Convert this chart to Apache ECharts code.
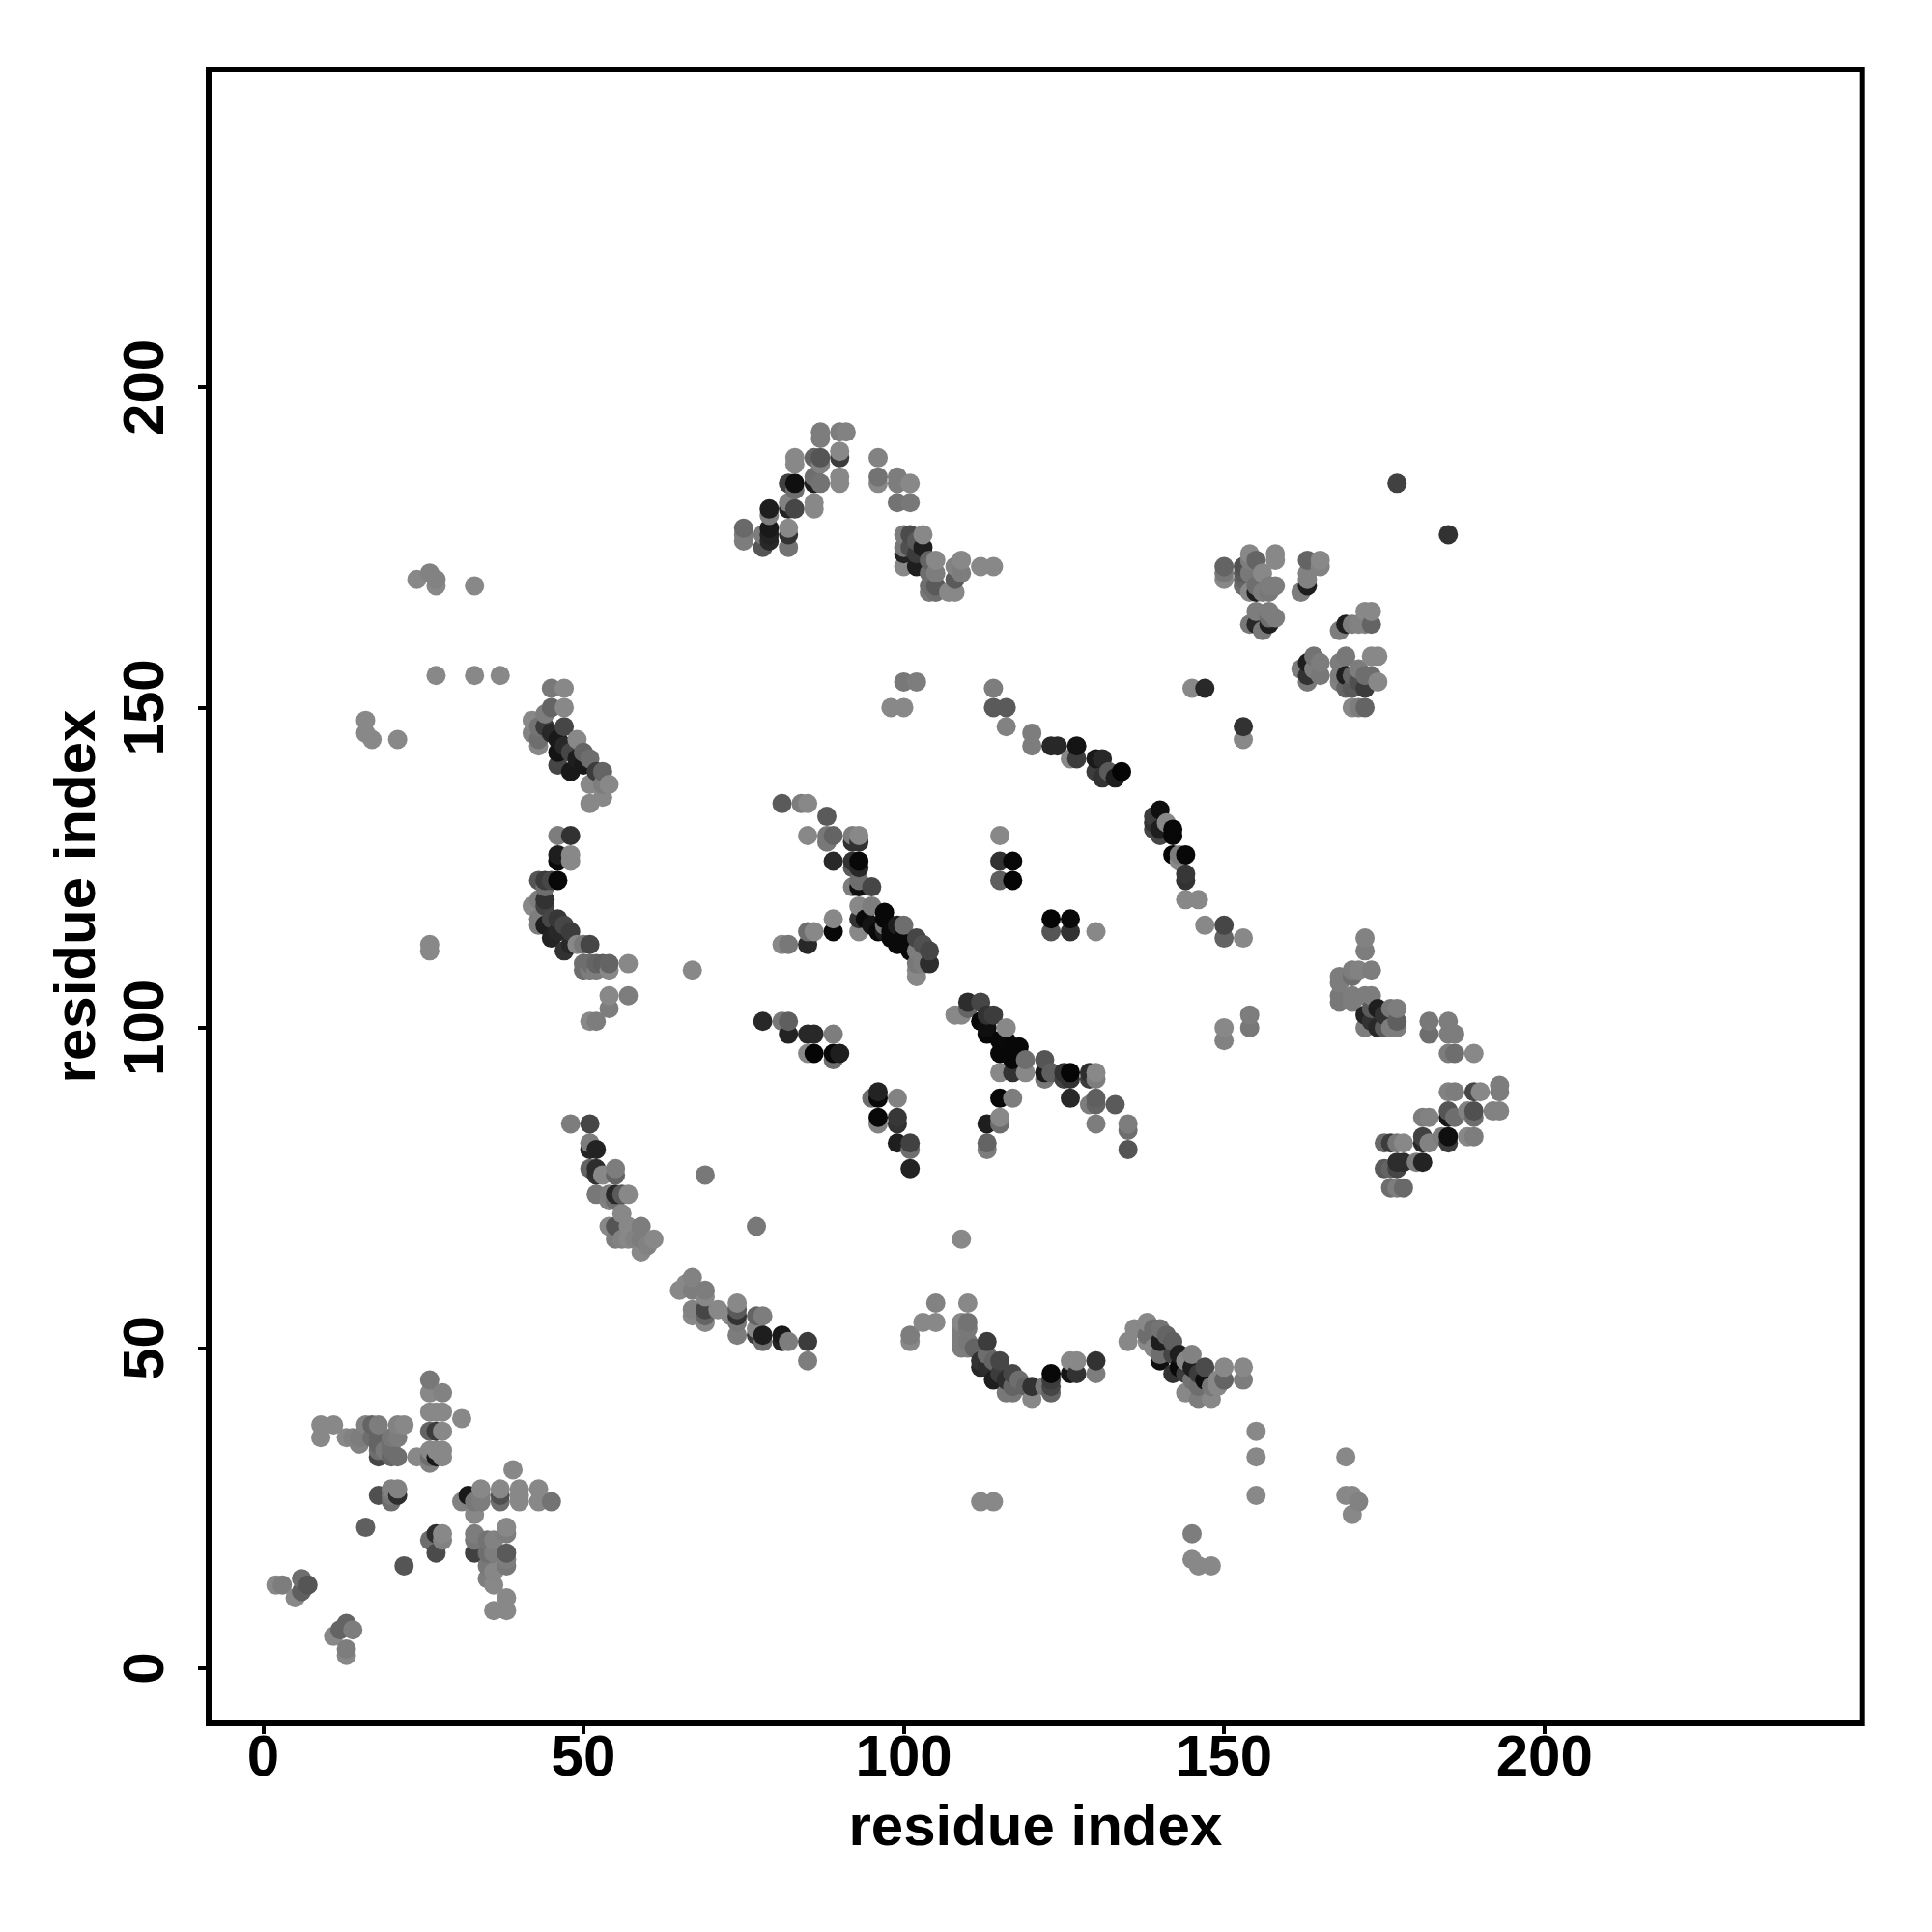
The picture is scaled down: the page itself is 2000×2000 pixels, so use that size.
<!DOCTYPE html>
<html><head><meta charset="utf-8">
<style>html,body{margin:0;padding:0;background:#fff}#c{width:2000px;height:2000px}</style>
<script src="https://cdn.jsdelivr.net/npm/echarts@6/dist/echarts.min.js"></script>
</head><body><div id="c"></div>
<script>
const tickValues = [0, 50, 100, 150, 200];
const axisTitle = 'residue index';
// Each contact: [residue i, residue j, grey level]
const clusterBottomLeft = [
[26,45,120],[26,43,136],[28,43,130],[26,40,136],[27,40,136],[28,40,136],[31,39,136],
[9,38,136],[11,38,136],[16,38,130],[17,38,100],[18,38,125],[21,38,130],[22,38,136],
[26,37,100],[27,37,60],[28,37,136],[9,36,136],[13,36,136],[14,36,130],[15,36,125],[17,36,110],[18,36,100],[20,36,120],[21,36,125],
[15,35,130],[18,35,100],[20,35,110],[26,34,136],[27,34,136],[28,34,136],[18,34,110],[20,34,110],[19,34,120],
[18,33,70],[20,33,100],[21,33,110],[24,33,136],[26,33,110],[27,33,25],[28,33,136],[26,32,130],[39,31,136],
[20,28,130],[21,28,130],[34,28,136],[37,28,136],[40,28,136],[43,28,136],
[18,27,80],[21,27,45],[20,27,120],[32,27,25],[34,27,125],[37,27,80],[40,27,136],
[20,26,110],[31,26,130],[33,26,120],[34,26,125],[37,26,110],[40,26,136],[43,26,136],[45,26,115],[33,24,136],
[16,22,95],[38,22,136],[27,21,45],[28,21,136],[33,21,125],[38,21,125],[26,20,110],[28,20,130],[33,20,120],[35,20,115],[36,20,130],
[27,18,75],[33,18,65],[35,18,110],[36,18,125],[38,18,90],[38,17,125],[38,16,120],[35,16,120],[36,15,135],[35,14,125],[36,13,136],[38,11,136],[36,9,136],[38,9,136],[22,16,85],
[2,13,136],[3,13,125],[6,14,110],[7,13,85],[6,12,95],[5,11,136],[13,7,100],[12,6,100],[14,6,125],[11,5,136],[13,3,125],[13,2,136]
];
const clusterLeftArc = [
[37,155,136],[33,155,136],[27,155,136],[45,153,120],[47,153,136],[45,150,100],[47,150,136],[44,149,125],[42,148,136],[42,146,130],[43,147,115],[43,145,110],[43,144,136],
[44,147,60],[45,146,40],[46,145,25],[47,147,70],[49,145,136],[46,143,20],[46,141,70],[47,144,40],[48,143,70],[48,140,25],[49,142,30],[50,141,25],[50,143,100],[51,142,110],[52,140,60],[51,138,136],[53,140,100],[53,138,125],[54,138,136],[53,136,136],[51,135,136],
[46,130,125],[48,130,50],[46,127,30],[48,127,136],[46,126,10],[48,126,136],
[43,123,85],[44,123,60],[45,123,70],[46,123,8],[44,122,110],[42,119,136],[43,120,125],[44,120,50],[44,119,65],
[43,117,125],[43,116,125],[44,116,30],[45,117,70],[46,117,55],[45,114,35],[46,115,40],[47,116,70],[48,115,60],[47,112,50],[48,113,40],[49,113,136],[50,113,120],[51,113,70],
[50,110,110],[50,109,110],[51,110,110],[51,109,125],[52,110,100],[52,109,125],[53,110,95],[54,110,100],[54,109,136],[57,110,136],[67,109,136],[54,105,136],[57,105,125],[54,103,125],[51,101,136],[52,101,125],
[26,113,136],[26,112,136],[24,170,136],[26,171,130],[27,169,136],[27,170,130],[33,169,136],[16,148,136],[16,146,136],[17,145,136],[21,145,136]
];
const clusterLowerCurve = [
[48,85,125],[51,85,70],[51,82,125],[51,81,35],[52,81,35],[51,78,100],[52,78,45],[52,77,50],[53,77,136],[55,78,125],[55,77,100],
[52,74,120],[54,74,125],[55,74,40],[55,73,110],[56,74,90],[57,74,136],[54,73,130],[56,71,136],
[54,69,136],[55,69,85],[57,69,136],[59,69,125],[55,67,125],[56,67,130],[57,67,136],[58,67,130],[59,67,125],[61,67,136],[60,66,130],[59,65,136],
[69,77,120],[77,69,120],[109,67,136],[65,59,136],[66,60,136],[67,61,130],[67,59,125],[69,59,125],[69,58,136],[67,56,130],[67,55,136],[69,56,70],[69,55,100],[69,54,136],[71,56,136],
[73,55,136],[74,57,136],[74,56,90],[74,55,50],[74,54,120],[74,52,125],[77,55,100],[78,55,125],[77,53,136],[77,52,60],[78,52,30],[78,51,110],[81,52,25],[81,51,35],[82,51,125],[85,51,60],[85,48,125]
];
const clusterBottomMid = [
[101,52,125],[101,51,136],[103,54,136],[105,54,136],[105,57,130],[110,57,136],[109,54,136],[110,54,115],[109,53,125],[110,53,120],[109,52,125],[109,51,125],[109,50,125],[110,51,120],[110,50,125],
[111,50,100],[112,48,50],[112,47,40],[113,51,60],[113,49,110],[113,47,45],[114,48,100],[114,45,30],[115,48,70],[115,46,60],[116,45,45],[116,43,120],[117,46,70],[117,44,100],[117,43,120],[118,45,110],[119,44,100],[120,44,50],[120,42,136],[122,44,120],[123,46,8],[123,45,60],[123,44,70],[123,43,100],[126,48,136],[127,48,136],[126,46,20],[127,46,50],[130,48,50],[130,46,125],
[135,51,136],[136,53,136],[138,54,136],[138,52,110],[138,51,136],[139,53,110],[140,53,115],[139,50,136],[140,51,30],[140,49,110],[140,48,15],[141,52,100],[142,51,95],[142,49,70],[142,46,50],[143,49,30],[143,47,10],[144,48,136],[144,46,60],[144,43,136],[145,49,130],[145,47,30],[145,45,115],[146,46,60],[146,44,110],[146,42,125],[147,47,75],[147,45,15],[148,44,120],[148,42,136],[149,45,136],[149,44,136],[150,47,136],[150,45,100],[153,47,136],[153,45,125],
[155,37,136],[155,33,136],[155,27,136],[169,33,136],[169,27,136],[170,27,136],[171,26,130],[170,24,136],[112,26,136],[114,26,136],[145,21,125],[145,17,136],[146,16,136],[148,16,136]
];
const clusterCentre = [
[81,135,90],[84,135,125],[85,135,136],[88,133,90],[85,130,136],[88,130,120],[89,130,100],[92,130,125],[93,130,136],[88,129,120],[92,129,50],[93,129,50],
[89,126,40],[92,126,50],[93,126,8],[92,125,90],[93,125,40],[92,122,125],[93,123,110],[93,122,15],[95,122,70],
[93,119,136],[95,119,125],[97,118,8],[93,117,50],[94,117,10],[97,117,8],[89,117,136],[89,115,8],[93,115,136],[95,116,20],[96,115,10],[97,115,30],[98,115,10],[98,114,10],[97,116,120],[99,116,30],[99,113,10],[100,114,10],[100,116,110],[101,112,10],[102,114,70],[102,112,125],[103,113,80],[103,111,125],[104,112,70],[102,110,120],[103,110,125],[104,110,45],[102,109,136],[102,108,136],
[86,115,136],[85,115,110],[85,113,40],[81,113,136],[82,113,120],
[115,130,136],[115,126,50],[117,126,8],[115,123,95],[117,123,5],[123,117,5],[126,117,10],[123,115,85],[126,115,50],[130,115,136],
[139,133,60],[140,134,15],[139,132,50],[139,131,70],[140,130,70],[141,132,136],[140,131,30],[142,131,8],[142,130,8],[142,127,5],[143,127,125],[143,126,136],[144,127,8],[144,124,55],[144,123,50],[144,120,136],[146,120,136],[147,116,136],[150,116,70],[150,114,100],[153,114,136],
[78,101,40],[81,101,120],[82,101,95],[82,99,35],[85,99,40],[86,99,40],[89,99,125],[85,96,136],[86,96,5],[89,95,110],[89,96,8],[90,96,30],
[95,89,110],[96,90,35],[96,89,8],[99,89,130],[96,85,130],[96,86,8],[99,86,55],[99,85,50],[99,82,30],[101,82,65],[101,81,110],[101,78,35],
[113,85,30],[115,86,136],[115,85,110],[113,82,100],[113,81,125],[115,89,8],[117,89,125],
[108,102,136],[109,102,136],[110,104,45],[110,103,100],[112,104,70],[112,101,8],[113,102,50],[113,99,8],[113,100,15],[114,102,60],[115,98,8],[116,100,136],[115,96,8],[116,98,10],[116,96,8],[117,97,8],[117,96,8],[117,95,8],[118,97,8],
[115,93,136],[117,93,50],[119,93,136],[119,95,110],[122,95,85],[122,93,25],[122,92,120],[123,93,95],[125,93,50],[125,92,65],[126,93,5],[126,92,50],[129,93,45],[129,92,60],[130,93,136],[130,92,125],
[126,89,40],[130,89,95],[129,88,125],[130,88,100],[133,88,90],[130,85,125],[135,85,125],[135,84,110],[135,81,85],
[114,153,125],[114,150,90],[116,150,90],[116,147,130],[120,146,125],[120,144,125],[123,144,40],[124,144,40],[126,142,136],[127,144,20],[127,142,60],[130,142,25],[131,142,40],[130,140,60],[131,139,50],[132,140,90],[133,139,30],[134,140,5],
[98,150,136],[100,150,136],[100,154,120],[102,154,125]
];
const clusterTop = [
[87,193,125],[87,192,125],[90,193,125],[91,193,130],[83,189,136],[83,188,136],[86,189,100],[87,189,85],[87,188,130],[90,190,136],[90,189,60],
[96,189,130],[96,186,115],[96,185,136],[99,186,125],[99,185,125],[101,185,136],[99,182,115],[101,182,120],
[82,185,65],[83,185,15],[83,184,110],[86,186,110],[86,185,30],[87,185,115],[90,186,136],[90,185,136],
[82,182,130],[82,181,35],[83,181,70],[86,182,136],[86,181,136],[79,181,30],[79,180,125],
[75,178,105],[75,177,125],[75,176,125],[78,177,125],[78,175,85],[79,178,25],[79,177,35],[79,176,40],[82,178,136],[82,177,50],[82,175,115],
[100,177,125],[100,175,120],[100,174,35],[100,172,136],[101,177,75],[101,175,80],[102,176,90],[102,174,60],[102,172,30],[103,177,136],[103,175,30],[103,174,60],[104,173,100],[104,171,110],[104,169,110],[104,168,120],
[105,173,136],[105,171,125],[105,169,90],[105,168,110],[107,168,136],[108,172,130],[108,170,90],[108,168,136],[109,173,136],[109,171,125],[112,172,136],[114,172,136]
];
const clusterTopRight = [
[177,185,65],[185,177,50],[145,153,136],[147,153,40],[153,147,50],[153,145,136],
[150,172,100],[150,171,120],[150,170,136],[153,172,80],[153,171,90],[153,170,100],[153,169,110],[154,174,136],[154,173,125],[154,171,120],[154,168,136],[155,173,100],[155,169,110],[155,168,30],[156,171,136],[156,168,125],[157,168,120],[157,169,125],[158,174,136],[158,173,136],[158,169,125],
[155,165,125],[154,163,120],[155,163,40],[156,162,120],[157,165,125],[157,164,110],[157,163,30],[158,164,125],
[162,168,125],[163,173,100],[163,171,130],[163,170,130],[163,169,30],[165,173,136],[165,172,130],
[168,162,125],[169,163,30],[170,163,125],[171,163,130],[172,165,136],[173,165,136],[172,163,130],[173,163,100],
[162,156,125],[163,157,30],[163,155,50],[163,154,120],[164,158,115],[164,156,125],[165,157,125],[165,155,120],
[168,157,125],[168,155,125],[168,154,130],[169,158,120],[169,155,30],[169,153,100],[170,153,90],[170,155,100],[171,156,125],[171,154,80],[172,155,110],[172,153,60],[173,158,136],[173,155,110],[174,158,136],[174,154,136],[170,150,136],[171,150,125],[172,150,100]
];
const clusterRight = [
[172,114,130],[172,112,125],[170,109,125],[171,109,130],[173,109,125],[168,108,125],[170,108,110],[168,107,125],[168,105,120],[168,104,120],[170,105,125],[170,104,125],[172,105,125],[173,105,125],
[172,102,35],[172,100,125],[173,103,90],[173,101,50],[174,103,30],[174,100,40],[175,102,50],[175,100,90],[176,103,120],[176,100,125],[177,103,125],[177,101,95],[177,100,125],
[182,101,120],[182,99,110],[185,101,125],[185,99,125],[186,99,125],[185,96,125],[186,96,110],[189,96,136],
[185,90,130],[186,90,125],[189,90,70],[190,90,136],[193,91,125],[193,90,125],[185,87,85],[186,86,110],[185,86,20],[188,87,130],[189,87,80],[189,86,110],[192,87,130],[193,87,130],
[181,86,125],[182,86,130],[181,83,65],[181,82,40],[182,82,130],[184,83,125],[185,83,15],[185,82,60],[188,83,136],[189,83,125],
[175,82,105],[176,82,60],[177,82,120],[178,82,136],[175,78,90],[176,78,100],[177,79,45],[177,78,70],[178,79,45],[180,79,125],[181,79,35],[176,75,110],[177,75,125],[178,75,105],
[154,102,125],[154,100,120],[150,100,136],[150,98,130]
];
const allPoints = [clusterBottomLeft, clusterLeftArc, clusterLowerCurve, clusterBottomMid, clusterCentre, clusterTop, clusterTopRight, clusterRight]
  .flat().slice().sort((a, b) => a[0] - b[0] || a[1] - b[1]);

const axisBase = {
  type: 'value', max: 249.6,
  name: axisTitle, nameLocation: 'middle',
  nameTextStyle: { fontFamily: 'Liberation Sans', fontWeight: 'bold', fontSize: 60, color: '#000' },
  axisLine: { show: false, onZero: false }, splitLine: { show: false },
  axisTick: { show: true, length: 11, customValues: tickValues, lineStyle: { color: '#000', width: 4 } }
};
const labelBase = { show: true, customValues: tickValues, fontFamily: 'Liberation Sans', fontWeight: 'bold', fontSize: 60, color: '#000', hideOverlap: false };
const chart = echarts.init(document.getElementById('c'), null, { renderer: 'canvas' });
chart.setOption({
  animation: false, backgroundColor: '#fff',
  grid: { left: 216, top: 72, width: 1711.7, height: 1712, show: true, borderColor: '#000', borderWidth: 6, backgroundColor: 'transparent' },
  xAxis: Object.assign({}, axisBase, { min: -8.5, nameGap: 79, axisLabel: Object.assign({}, labelBase, { margin: 7 }) }),
  yAxis: Object.assign({}, axisBase, { min: -8.6, nameGap: 105, nameRotate: 90, axisLabel: Object.assign({}, labelBase, { rotate: 90, margin: 64, align: 'center', verticalAlign: 'middle' }) }),
  series: [{
    type: 'scatter', symbol: 'circle', symbolSize: 20, clip: false, large: false,
    data: allPoints,
    encode: { x: 0, y: 1 },
    itemStyle: { opacity: 1, color: p => { const g = p.value[2]; return `rgb(${g},${g},${g})`; } }
  }]
});
</script></body></html>
